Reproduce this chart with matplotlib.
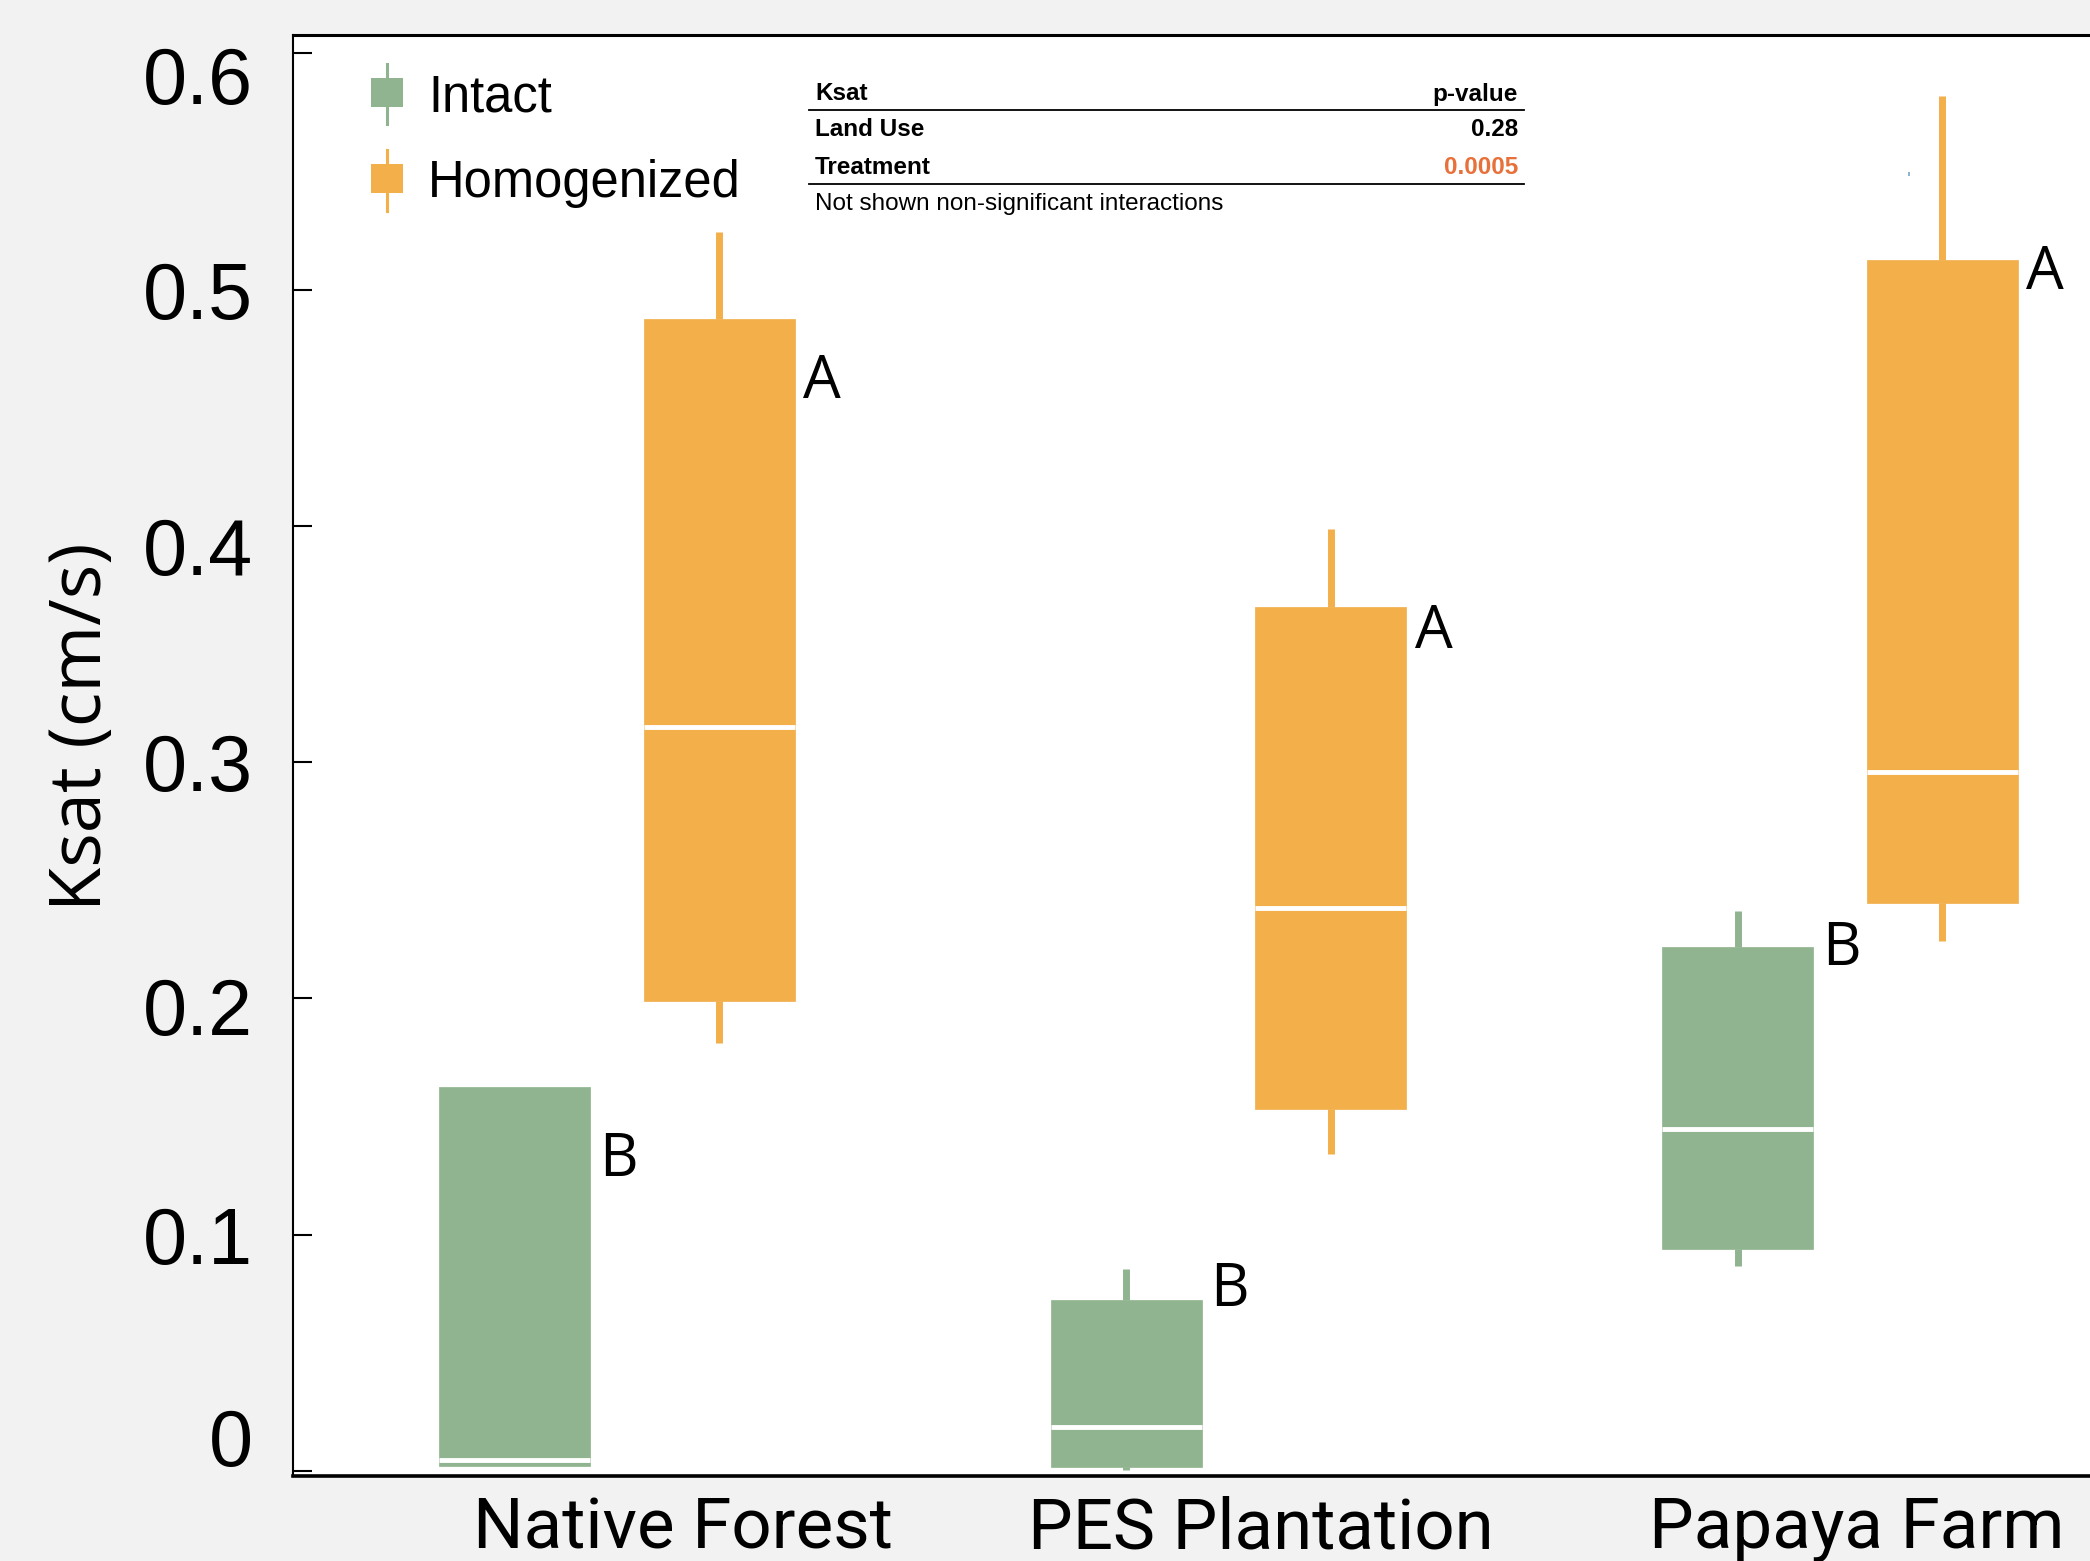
import numpy as np
import matplotlib
matplotlib.use("Agg")
import matplotlib.pyplot as plt
import matplotlib.transforms as mtransforms
from matplotlib.lines import Line2D
from matplotlib.patches import Rectangle

# Daten
land_uses = ["Native Forest", "PES Plantation", "Papaya Farm"]
treatments = ["Intact", "Homogenized"]

# je Landnutzung: [untere Whisker, Q1, Median, Q3, obere Whisker]
intact_whislo = [0.002, 0.0004, 0.0867]
intact_q1 = [0.002, 0.0017, 0.0939]
intact_med = [0.0045, 0.0186, 0.1446]
intact_q3 = [0.1626, 0.0723, 0.2216]
intact_whishi = [0.1626, 0.0854, 0.2372]

homog_whislo = [0.1812, 0.1343, 0.2245]
homog_q1 = [0.1987, 0.1530, 0.2402]
homog_med = [0.3150, 0.2382, 0.2958]
homog_q3 = [0.4877, 0.3658, 0.5125]
homog_whishi = [0.5244, 0.3985, 0.5818]

# Buchstaben (Tukey-Gruppen) und ihre Höhe
intact_letters = ["B", "B", "B"]
intact_letter_y = [0.1315, 0.0765, 0.221]
homog_letters = ["A", "A", "A"]
homog_letter_y = [0.461, 0.355, 0.507]

# Statistik-Tabelle
table_header = ["Ksat", "p-value"]
table_rows = [["Land Use", "0.28"], ["Treatment", "0.0005"]]
table_note = "Not shown non-significant interactions"

green = "#8FB48F"
orange = "#F2AF4A"

fig = plt.figure(figsize=(20.9, 15.61), dpi=100, facecolor="#F2F2F2")
ax = fig.add_axes([293 / 2090, 1 - 1476 / 1561, 1 - 293 / 2090, (1476 - 35) / 1561])
ax.set_facecolor("white")

pos = np.arange(len(land_uses))
offset = 0.167
width = 0.247


def make_stats(lo, q1, med, q3, hi):
    return [dict(whislo=a, q1=b, med=c, q3=d, whishi=e, fliers=[])
            for a, b, c, d, e in zip(lo, q1, med, q3, hi)]


for stats, shift, col in [
    (make_stats(intact_whislo, intact_q1, intact_med, intact_q3, intact_whishi), -offset, green),
    (make_stats(homog_whislo, homog_q1, homog_med, homog_q3, homog_whishi), offset, orange),
]:
    ax.bxp(stats, positions=pos + shift, widths=width, patch_artist=True,
           showcaps=False, showfliers=False,
           boxprops=dict(facecolor=col, edgecolor=col, linewidth=0.5),
           whiskerprops=dict(color=col, linewidth=5, solid_capstyle="butt"),
           medianprops=dict(color="white", linewidth=3.5, solid_capstyle="butt"),
           manage_ticks=False)

# kleiner blauer Punkt (Artefakt im Original)
ax.plot([2.113], [0.549], marker="|", ms=3, color="#7AA6C2", mew=1.2)

# Buchstaben
for i in range(len(land_uses)):
    ax.text(pos[i] - offset + width / 2 + 0.014, intact_letter_y[i], intact_letters[i],
            fontsize=43, family="Open Sans", ha="left", va="center")
    ax.text(pos[i] + offset + width / 2 + 0.014, homog_letter_y[i], homog_letters[i],
            fontsize=43, family="Open Sans", ha="left", va="center")

ax.set_xlim(-0.530, 2.409)
ax.set_ylim(-0.0021, 0.6077)

ax.spines["right"].set_visible(False)
ax.spines["left"].set_linewidth(1.5)
ax.spines["bottom"].set_linewidth(2.6)
ax.spines["top"].set_linewidth(2.2)

yticks = [0, 0.1, 0.2, 0.3, 0.4, 0.5, 0.6]
ax.set_yticks(yticks)
ax.set_yticklabels(["0", "0.1", "0.2", "0.3", "0.4", "0.5", "0.6"],
                   fontsize=57, family="Liberation Sans")
ax.tick_params(axis="y", direction="in", length=14, width=1.5, pad=29)
# kleine Verschiebungen der Beschriftungen wie im Original (in Pixel)
label_dy = {0: 34, 0.2: -8, 0.4: -20, 0.6: -22}
for val, lab in zip(yticks, ax.get_yticklabels()):
    dy = label_dy.get(val, 0)
    if dy:
        lab.set_transform(lab.get_transform() +
                          mtransforms.ScaledTranslation(0, dy / 100, fig.dpi_scale_trans))

ax.set_xticks(pos + np.array([0.108, 0.053, 0.028]))
ax.set_xticklabels(land_uses, fontsize=51, family="Roboto")
ax.tick_params(axis="x", length=0, pad=14)

ax.set_ylabel("Ksat (cm/s)", fontsize=52, family="Open Sans")
ax.yaxis.set_label_coords(118 / 2090, 0, transform=fig.transFigure)
ax.yaxis.label.set_y(1 - 727 / 1561)

# Legende (von Hand, in Pixelkoordinaten der Abbildung)
def px(x, y):
    return x / 2090, 1 - y / 1561


for name, col, ytop, ybot, wtop, wbot in [
    (treatments[0], green, 78, 107, 64, 124),
    (treatments[1], orange, 164, 193, 150, 211),
]:
    x0, y0 = px(371, ybot)
    x1, y1 = px(403, ytop)
    fig.patches.append(Rectangle((x0, y0), x1 - x0, y1 - y0, transform=fig.transFigure,
                                 facecolor=col, edgecolor="none"))
    xm = px(387, 0)[0]
    fig.lines.append(Line2D([xm, xm], [px(0, wtop)[1], px(0, wbot)[1]],
                            transform=fig.transFigure, color=col, lw=2.2, zorder=0))
    fig.text(*px(428, (ytop + ybot) / 2 + 5), name, fontsize=36.5, family="Liberation Sans",
             ha="left", va="center")

# Tabelle
tl, tr = 815, 1518
fs = 17.5
fig.text(*px(tl, 94), table_header[0], fontsize=fs, weight="bold",
         family="Liberation Sans", ha="left", va="center")
fig.text(*px(tr, 94), table_header[1], fontsize=fs, weight="bold",
         family="Liberation Sans", ha="right", va="center")
fig.lines.append(Line2D([px(809, 0)[0], px(1524, 0)[0]], [px(0, 110)[1]] * 2,
                        transform=fig.transFigure, color="black", lw=1.3))
row_y = [130, 167]
val_colors = ["black", "#E8703A"]
for (name, val), yy, vc in zip(table_rows, row_y, val_colors):
    fig.text(*px(tl, yy), name, fontsize=fs, weight="bold",
             family="Liberation Sans", ha="left", va="center")
    fig.text(*px(tr, yy), val, fontsize=fs, weight="bold", color=vc,
             family="Liberation Sans", ha="right", va="center")
fig.lines.append(Line2D([px(809, 0)[0], px(1524, 0)[0]], [px(0, 184)[1]] * 2,
                        transform=fig.transFigure, color="black", lw=1.3))
fig.text(*px(tl, 204), table_note, fontsize=fs, family="Liberation Sans",
         ha="left", va="center")

fig.savefig("out.png", dpi=100, facecolor=fig.get_facecolor())
